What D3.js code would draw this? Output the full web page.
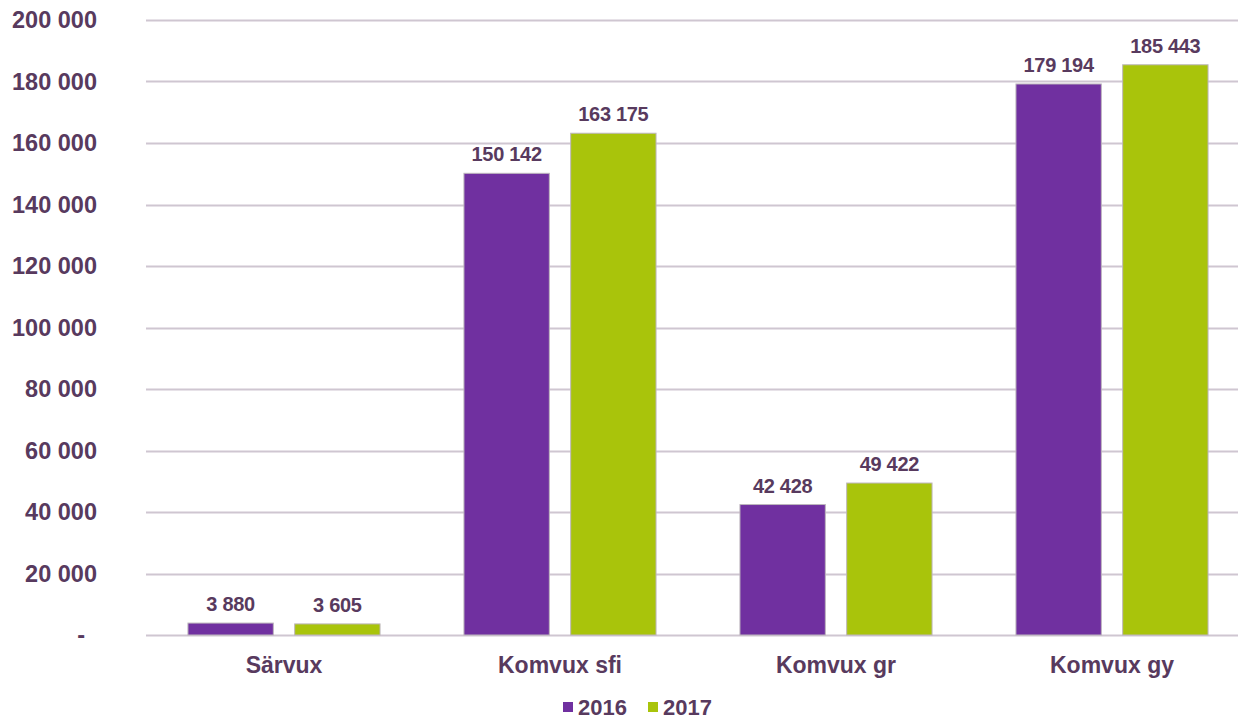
<!DOCTYPE html>
<html>
<head>
<meta charset="utf-8">
<script src="https://cdn.jsdelivr.net/npm/d3@7"></script>
<style>
  body { margin: 0; background: #fff; }
  svg { display: block; font-family: Arial, 'Liberation Sans', sans-serif; }
</style>
</head>
<body>
<svg id="chart" width="1238" height="720"></svg>
<script>
const categories = ['Särvux', 'Komvux sfi', 'Komvux gr', 'Komvux gy']
const years = ['2016', '2017']
const values2016 = [3880, 150142, 42428, 179194]
const values2017 = [3605, 163175, 49422, 185443]
const yTicks = [0, 20000, 40000, 60000, 80000, 100000, 120000, 140000, 160000, 180000, 200000]

const colors = { '2016': '#7030a0', '2017': '#a9c40b' }
const textColor = '#583a5e'

const rows = categories.map((c, i) => ({
  category: c,
  '2016': values2016[i],
  '2017': values2017[i]
}))

const svg = d3.select('#chart')
const margin = { left: 146, right: 1250, top: 20, bottom: 635 }

const sv = d3.formatLocale({ decimal: ',', thousands: ' ', grouping: [3], currency: ['', ' kr'] })
const fmt = sv.format(',d')

const x0 = d3.scaleBand().domain(categories).range([margin.left, margin.right]).paddingInner(0.304).paddingOuter(0.152)
const x1 = d3.scaleBand().domain(years).range([0, x0.bandwidth()]).paddingInner(0.2)
const y = d3.scaleLinear().domain([0, 200000]).range([margin.bottom, margin.top])

// gridlines
svg.append('g')
  .selectAll('line')
  .data(yTicks)
  .enter()
  .append('line')
  .attr('x1', margin.left)
  .attr('x2', 1238)
  .attr('y1', d => Math.round(y(d)) + 0.5)
  .attr('y2', d => Math.round(y(d)) + 0.5)
  .attr('stroke', '#cfc6d1')
  .attr('stroke-width', 2)

// y labels
svg.append('g')
  .selectAll('text')
  .data(yTicks)
  .enter()
  .append('text')
  .attr('x', d => d === 0 ? 85 : 97)
  .attr('y', d => y(d))
  .attr('dy', '0.36em')
  .attr('text-anchor', 'end')
  .attr('font-size', 23.5)
  .attr('font-weight', 'bold')
  .attr('fill', textColor)
  .text(d => d === 0 ? '-' : fmt(d))

// bars
const groups = svg.append('g')
  .selectAll('g')
  .data(rows)
  .enter()
  .append('g')
  .attr('transform', d => `translate(${x0(d.category)},0)`)

groups.selectAll('rect')
  .data(d => years.map(k => ({ key: k, value: d[k] })))
  .enter()
  .append('rect')
  .attr('x', d => x1(d.key))
  .attr('y', d => y(d.value))
  .attr('width', x1.bandwidth())
  .attr('height', d => y(0) - y(d.value))
  .attr('fill', d => colors[d.key])
  .attr('stroke', '#bdb6bd')
  .attr('stroke-width', 1)

groups.selectAll('text')
  .data(d => years.map(k => ({ key: k, value: d[k] })))
  .enter()
  .append('text')
  .attr('x', d => x1(d.key) + x1.bandwidth() / 2)
  .attr('y', d => y(d.value) - 12)
  .attr('text-anchor', 'middle')
  .attr('font-size', 20)
  .attr('font-weight', 'bold')
  .attr('letter-spacing', -0.3)
  .attr('fill', textColor)
  .text(d => fmt(d.value))

// category labels
svg.append('g')
  .selectAll('text')
  .data(categories)
  .enter()
  .append('text')
  .attr('x', d => x0(d) + x0.bandwidth() / 2)
  .attr('y', 673)
  .attr('text-anchor', 'middle')
  .attr('font-size', 23)
  .attr('font-weight', 'bold')
  .attr('fill', textColor)
  .text(d => d)

// legend
const legend = svg.append('g')
  .selectAll('g')
  .data(years)
  .enter()
  .append('g')
  .attr('transform', (d, i) => `translate(${563 + i * 85},0)`)

legend.append('rect')
  .attr('x', 0)
  .attr('y', 702)
  .attr('width', 10)
  .attr('height', 10)
  .attr('fill', d => colors[d])

legend.append('text')
  .attr('x', 15)
  .attr('y', 715)
  .attr('font-size', 22)
  .attr('font-weight', 'bold')
  .attr('fill', textColor)
  .text(d => d)
</script>
</body>
</html>
